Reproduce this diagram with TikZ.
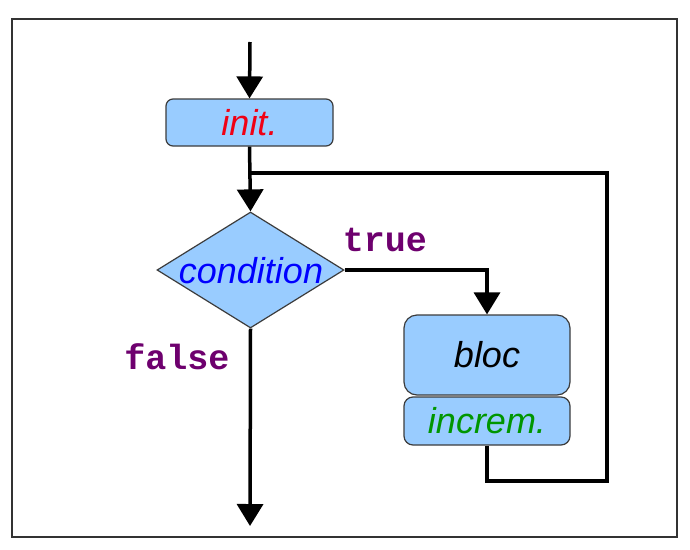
\documentclass[tikz,border=0pt]{standalone}
\usepackage{fontspec}
\setmainfont{Liberation Sans}
\newfontfamily\monobold{Liberation Mono}
\usetikzlibrary{shapes.geometric,arrows.meta}
\definecolor{boxfill}{RGB}{153,204,255}
\definecolor{boxline}{RGB}{60,60,60}
\definecolor{kwpurple}{RGB}{110,0,110}
\definecolor{initred}{RGB}{240,0,20}
\definecolor{condblue}{RGB}{0,0,255}
\definecolor{incgreen}{RGB}{0,150,0}
\tikzset{
  bigtext/.style={font=\fontsize{36}{40}\selectfont\itshape},
  stepbox/.style={draw=boxline, line width=1.2pt, fill=boxfill, inner sep=0pt, bigtext},
  kw/.style={font=\fontsize{35}{38}\selectfont\monobold\bfseries, text=kwpurple, inner sep=0pt},
  flow/.style={line width=3.5pt, draw=black},
  flowarrow/.style={flow, -{Triangle[width=26pt,length=22pt]}},
}
\begin{document}
\begin{tikzpicture}[x=1pt,y=-1pt]
\useasboundingbox (0,0) rectangle (690,549);
\fill[white] (0,0) rectangle (690,549);
\draw[line width=1.5pt, draw=black!80] (12,19) rectangle (677,537);
% nodes
\node[stepbox, rounded corners=7pt, minimum width=167pt, minimum height=47pt, text=initred] (init) at (249.5,122.5) {init.};
\node[stepbox, diamond, aspect=1.61, minimum width=187pt, minimum height=116pt] (cond) at (250.5,270) {};
\node[bigtext, text=condblue, inner sep=0pt] (condtxt) at (251,271) {condition};
\node[stepbox, rounded corners=13pt, minimum width=166pt, minimum height=80pt, text=black] (bloc) at (487,355) {bloc};
\node[stepbox, rounded corners=9pt, minimum width=166pt, minimum height=48pt, text=incgreen] (increm) at (487,421) {increm.};
\node[kw] (true) at (385,240) {true};
\node[kw] (false) at (177,357) {false};
% coordinates
\coordinate (start) at (250,42);
\coordinate (join) at (250,173);
\coordinate (turn) at (487,270);
\coordinate (lb) at (487,481);
\coordinate (rb) at (607,481);
\coordinate (rt) at (607,173);
\coordinate (stop) at (250,526);
% connectors
\draw[flowarrow] (start) -- (init.north);
\draw[flowarrow] (init.south) -- (cond.north);
\draw[flowarrow] (cond.east) -- (turn) -- (bloc.north);
\draw[flow, line join=miter] (increm.south) -- (lb) -- (rb) -- (rt) -- (join);
\draw[flowarrow] (cond.south) -- (stop);
\end{tikzpicture}
\end{document}
